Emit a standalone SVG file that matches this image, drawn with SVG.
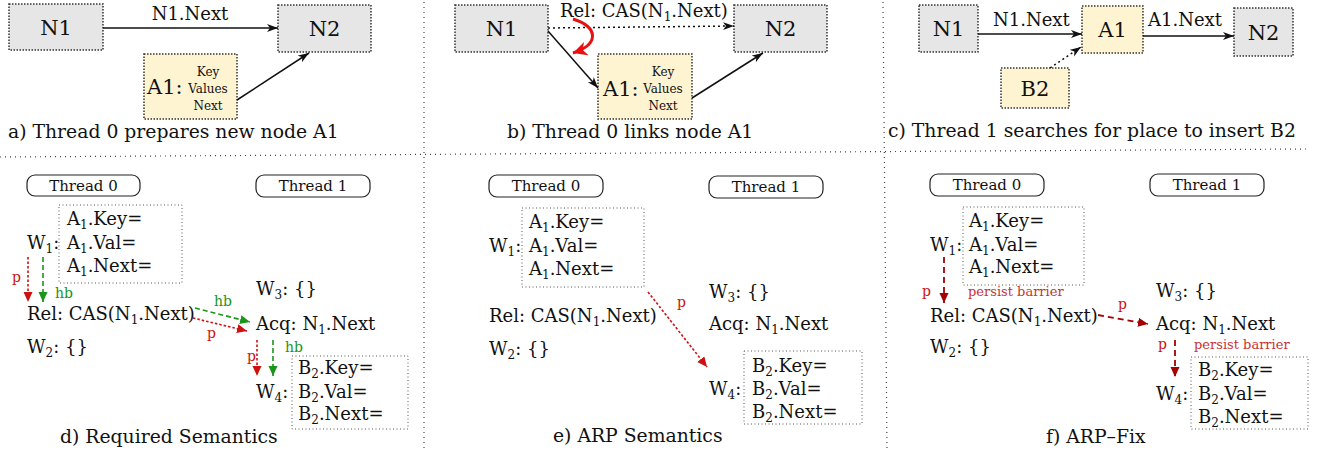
<svg xmlns="http://www.w3.org/2000/svg" width="1330" height="452" viewBox="0 0 1330 452">
<style>
text{font-family:"DejaVu Serif","Liberation Serif",serif;fill:#111}
.m{font-size:18px}
.cap{font-size:18.8px}
.big{font-size:21px}
.sm{font-size:12px}
.th{font-size:15px}
.lbl{font-size:14px}
.pbs{font-size:13px}
.gray{fill:#e6e6e6;stroke:#333;stroke-width:1.5;stroke-dasharray:1.5 1.5}
.yel{fill:#fff4d2;stroke:#333;stroke-width:1.5;stroke-dasharray:1.5 1.5}
.dbox{fill:none;stroke:#555;stroke-width:1;stroke-dasharray:1 2.5}
.thr{fill:#fff;stroke:#222;stroke-width:1.2}
.sep{stroke:#444;stroke-width:1.2;stroke-dasharray:1 4;fill:none}
.blk{stroke:#111;stroke-width:1.5;fill:none;marker-end:url(#ab)}
.blkd{stroke:#111;stroke-width:1.5;fill:none;stroke-dasharray:2 3;marker-end:url(#ab)}
.rd{stroke:#d01010;stroke-width:1.6;fill:none;stroke-dasharray:2.5 2;marker-end:url(#ar)}
.gd{stroke:#1a961a;stroke-width:1.6;fill:none;stroke-dasharray:5 3;marker-end:url(#ag)}
.dr{stroke:#a30000;stroke-width:1.8;fill:none;stroke-dasharray:6 4;marker-end:url(#adr)}
.rt{fill:#cc1111}
.gt{fill:#1a961a}
.pb{fill:#c83232}
</style>
<defs>
<marker id="ab" markerUnits="userSpaceOnUse" markerWidth="12" markerHeight="10" refX="11" refY="4" orient="auto"><path d="M0,0 L11,4 L0,8 L3,4 z" fill="#111"/></marker>
<marker id="ar" markerUnits="userSpaceOnUse" markerWidth="12" markerHeight="10" refX="10" refY="4.5" orient="auto"><path d="M0,0 L10,4.5 L0,9 z" fill="#cc1111"/></marker>
<marker id="ag" markerUnits="userSpaceOnUse" markerWidth="12" markerHeight="10" refX="10" refY="4.5" orient="auto"><path d="M0,0 L10,4.5 L0,9 z" fill="#1a961a"/></marker>
<marker id="adr" markerUnits="userSpaceOnUse" markerWidth="12" markerHeight="10" refX="10" refY="4.5" orient="auto"><path d="M0,0 L10,4.5 L0,9 z" fill="#a30000"/></marker>
<marker id="abig" markerUnits="userSpaceOnUse" markerWidth="18" markerHeight="16" refX="14" refY="7" orient="auto"><path d="M0,0 L14,7 L0,14 L4,7 z" fill="#e81010"/></marker>
</defs>

<g id="separators">
<line class="sep" x1="0" y1="157" x2="1306" y2="149"/>
<line class="sep" x1="424" y1="2" x2="424" y2="450"/>
<line class="sep" x1="883" y1="2" x2="887" y2="450"/>
</g>

<!-- Panel a -->
<g id="a-N1"><rect class="gray" x="9" y="4" width="94" height="46"/><text class="big" x="56" y="35" text-anchor="middle">N1</text></g>
<g id="a-N2"><rect class="gray" x="278" y="5" width="93" height="47"/><text class="big" x="324.5" y="36" text-anchor="middle">N2</text></g>
<g id="a-A1"><rect class="yel" x="144" y="54" width="93" height="65"/><text class="big" x="147" y="94">A1:</text>
<text class="sm" x="208" y="76" text-anchor="middle">Key</text><text class="sm" x="208" y="93" text-anchor="middle">Values</text><text class="sm" x="208" y="110" text-anchor="middle">Next</text></g>
<text class="m" x="190" y="20" text-anchor="middle">N1.Next</text>
<text class="cap" x="8" y="138">a) Thread 0 prepares new node A1</text>

<!-- Panel b -->
<g id="b-N1"><rect class="gray" x="455" y="5" width="93" height="47"/><text class="big" x="501.5" y="36" text-anchor="middle">N1</text></g>
<g id="b-N2"><rect class="gray" x="734" y="5" width="93" height="47"/><text class="big" x="780.5" y="36" text-anchor="middle">N2</text></g>
<g id="b-A1"><rect class="yel" x="598" y="54" width="94" height="65"/><text class="big" x="603" y="96">A1:</text>
<text class="sm" x="663" y="76" text-anchor="middle">Key</text><text class="sm" x="663" y="93" text-anchor="middle">Values</text><text class="sm" x="663" y="110" text-anchor="middle">Next</text></g>
<text class="m" x="560" y="17">Rel: CAS(N<tspan font-size="12" dy="4">1</tspan><tspan dy="-4">.Next)</tspan></text>
<text class="cap" x="507" y="138">b) Thread 0 links node A1</text>

<!-- Panel c -->
<g id="c-N1"><rect class="gray" x="919" y="5" width="59" height="47"/><text class="big" x="948.5" y="36" text-anchor="middle">N1</text></g>
<g id="c-A1"><rect class="yel" x="1082" y="6" width="61" height="47"/><text class="big" x="1112.5" y="37" text-anchor="middle">A1</text></g>
<g id="c-N2"><rect class="gray" x="1234" y="8" width="59" height="48"/><text class="big" x="1263.5" y="40" text-anchor="middle">N2</text></g>
<g id="c-B2"><rect class="yel" x="1001" y="68" width="68" height="40"/><text class="big" x="1035" y="96" text-anchor="middle">B2</text></g>
<text class="m" x="993" y="26">N1.Next</text>
<text class="m" x="1148" y="26">A1.Next</text>
<text class="cap" x="888" y="137">c) Thread 1 searches for place to insert B2</text>

<!-- Panel d -->
<g id="d-t0"><rect class="thr" x="27" y="175" width="113" height="21" rx="8"/><text class="th" x="83.5" y="191" text-anchor="middle">Thread 0</text></g>
<g id="d-t1"><rect class="thr" x="256" y="175" width="114" height="22" rx="8"/><text class="th" x="313" y="191" text-anchor="middle">Thread 1</text></g>
<g id="d-W1"><rect class="dbox" x="59" y="205" width="123" height="78"/>
<text class="m" x="67" y="225">A<tspan font-size="12" dy="4">1</tspan><tspan dy="-4">.Key=</tspan></text>
<text class="m" x="67" y="249">A<tspan font-size="12" dy="4">1</tspan><tspan dy="-4">.Val=</tspan></text>
<text class="m" x="67" y="272">A<tspan font-size="12" dy="4">1</tspan><tspan dy="-4">.Next=</tspan></text>
<text class="m" x="27" y="249">W<tspan font-size="12" dy="4">1</tspan><tspan dy="-4">:</tspan></text></g>
<g id="d-Rel"><text class="m" x="27" y="320">Rel: CAS(N<tspan font-size="12" dy="4">1</tspan><tspan dy="-4">.Next)</tspan></text></g>
<g id="d-W2"><text class="m" x="27" y="353">W<tspan font-size="12" dy="4">2</tspan><tspan dy="-4">: {}</tspan></text></g>
<g id="d-W3"><text class="m" x="256" y="295">W<tspan font-size="12" dy="4">3</tspan><tspan dy="-4">: {}</tspan></text></g>
<g id="d-Acq"><text class="m" x="256" y="330">Acq: N<tspan font-size="12" dy="4">1</tspan><tspan dy="-4">.Next</tspan></text></g>
<g id="d-W4"><rect class="dbox" x="292" y="356" width="116" height="73"/>
<text class="m" x="298" y="374">B<tspan font-size="12" dy="4">2</tspan><tspan dy="-4">.Key=</tspan></text>
<text class="m" x="298" y="398">B<tspan font-size="12" dy="4">2</tspan><tspan dy="-4">.Val=</tspan></text>
<text class="m" x="298" y="420">B<tspan font-size="12" dy="4">2</tspan><tspan dy="-4">.Next=</tspan></text>
<text class="m" x="256" y="398">W<tspan font-size="12" dy="4">4</tspan><tspan dy="-4">:</tspan></text></g>
<text class="cap" x="60" y="443">d) Required Semantics</text>

<!-- Panel e -->
<g id="e-t0"><rect class="thr" x="489" y="175" width="114" height="22" rx="8"/><text class="th" x="546" y="191" text-anchor="middle">Thread 0</text></g>
<g id="e-t1"><rect class="thr" x="709" y="176" width="114" height="22" rx="8"/><text class="th" x="766" y="192" text-anchor="middle">Thread 1</text></g>
<g id="e-W1"><rect class="dbox" x="522" y="208" width="122" height="79"/>
<text class="m" x="529" y="228">A<tspan font-size="12" dy="4">1</tspan><tspan dy="-4">.Key=</tspan></text>
<text class="m" x="529" y="252">A<tspan font-size="12" dy="4">1</tspan><tspan dy="-4">.Val=</tspan></text>
<text class="m" x="529" y="275">A<tspan font-size="12" dy="4">1</tspan><tspan dy="-4">.Next=</tspan></text>
<text class="m" x="489" y="252">W<tspan font-size="12" dy="4">1</tspan><tspan dy="-4">:</tspan></text></g>
<g id="e-Rel"><text class="m" x="489" y="322">Rel: CAS(N<tspan font-size="12" dy="4">1</tspan><tspan dy="-4">.Next)</tspan></text></g>
<g id="e-W2"><text class="m" x="489" y="355">W<tspan font-size="12" dy="4">2</tspan><tspan dy="-4">: {}</tspan></text></g>
<g id="e-W3"><text class="m" x="709" y="298">W<tspan font-size="12" dy="4">3</tspan><tspan dy="-4">: {}</tspan></text></g>
<g id="e-Acq"><text class="m" x="709" y="330">Acq: N<tspan font-size="12" dy="4">1</tspan><tspan dy="-4">.Next</tspan></text></g>
<g id="e-W4"><rect class="dbox" x="744" y="351" width="118" height="73"/>
<text class="m" x="752" y="372">B<tspan font-size="12" dy="4">2</tspan><tspan dy="-4">.Key=</tspan></text>
<text class="m" x="752" y="395">B<tspan font-size="12" dy="4">2</tspan><tspan dy="-4">.Val=</tspan></text>
<text class="m" x="752" y="418">B<tspan font-size="12" dy="4">2</tspan><tspan dy="-4">.Next=</tspan></text>
<text class="m" x="709" y="395">W<tspan font-size="12" dy="4">4</tspan><tspan dy="-4">:</tspan></text></g>
<text class="cap" x="553" y="442">e) ARP Semantics</text>

<!-- Panel f -->
<g id="f-t0"><rect class="thr" x="930" y="174" width="114" height="22" rx="8"/><text class="th" x="987" y="190" text-anchor="middle">Thread 0</text></g>
<g id="f-t1"><rect class="thr" x="1150" y="174" width="114" height="22" rx="8"/><text class="th" x="1207" y="190" text-anchor="middle">Thread 1</text></g>
<g id="f-W1"><rect class="dbox" x="963" y="207" width="121" height="78"/>
<text class="m" x="969" y="227">A<tspan font-size="12" dy="4">1</tspan><tspan dy="-4">.Key=</tspan></text>
<text class="m" x="969" y="251">A<tspan font-size="12" dy="4">1</tspan><tspan dy="-4">.Val=</tspan></text>
<text class="m" x="969" y="273">A<tspan font-size="12" dy="4">1</tspan><tspan dy="-4">.Next=</tspan></text>
<text class="m" x="930" y="251">W<tspan font-size="12" dy="4">1</tspan><tspan dy="-4">:</tspan></text></g>
<g id="f-Rel"><text class="m" x="930" y="322">Rel: CAS(N<tspan font-size="12" dy="4">1</tspan><tspan dy="-4">.Next)</tspan></text></g>
<g id="f-W2"><text class="m" x="930" y="353">W<tspan font-size="12" dy="4">2</tspan><tspan dy="-4">: {}</tspan></text></g>
<g id="f-W3"><text class="m" x="1156" y="297">W<tspan font-size="12" dy="4">3</tspan><tspan dy="-4">: {}</tspan></text></g>
<g id="f-Acq"><text class="m" x="1156" y="330">Acq: N<tspan font-size="12" dy="4">1</tspan><tspan dy="-4">.Next</tspan></text></g>
<g id="f-W4"><rect class="dbox" x="1191" y="357" width="117" height="72"/>
<text class="m" x="1198" y="376">B<tspan font-size="12" dy="4">2</tspan><tspan dy="-4">.Key=</tspan></text>
<text class="m" x="1198" y="400">B<tspan font-size="12" dy="4">2</tspan><tspan dy="-4">.Val=</tspan></text>
<text class="m" x="1198" y="423">B<tspan font-size="12" dy="4">2</tspan><tspan dy="-4">.Next=</tspan></text>
<text class="m" x="1156" y="400">W<tspan font-size="12" dy="4">4</tspan><tspan dy="-4">:</tspan></text></g>
<text class="cap" x="1046" y="443">f) ARP–Fix</text>

<g id="connectors">
<line class="blk" x1="103" y1="28" x2="278" y2="28"/>
<line class="blk" x1="237" y1="100" x2="309" y2="53"/>
<line class="blkd" x1="548" y1="28" x2="734" y2="26"/>
<line class="blk" x1="548" y1="31" x2="598" y2="88"/>
<line class="blk" x1="692" y1="98" x2="763" y2="53"/>
<path d="M573,19 C598,27 600,44 573,53" stroke="#e81010" stroke-width="3" fill="none" marker-end="url(#abig)"/>
<line class="blk" x1="978" y1="34" x2="1082" y2="34"/>
<line class="blk" x1="1143" y1="36" x2="1234" y2="36"/>
<line class="blkd" x1="1050" y1="68" x2="1081" y2="47"/>
<line class="rd" x1="28" y1="257" x2="28" y2="302"/>
<line class="gd" x1="43" y1="257" x2="43" y2="302"/>
<line class="gd" x1="195" y1="308" x2="250" y2="322"/>
<line class="rd" x1="193" y1="318" x2="247" y2="331"/>
<line class="rd" x1="257" y1="340" x2="257" y2="376"/>
<line class="gd" x1="273" y1="340" x2="273" y2="376"/>
<line class="rd" x1="648" y1="292" x2="707" y2="367"/>
<line class="dr" x1="944" y1="257" x2="944" y2="303"/>
<line class="dr" x1="1098" y1="315" x2="1148" y2="324"/>
<line class="dr" x1="1175" y1="340" x2="1175" y2="377"/>
</g>
<g id="connector-labels">
<text class="lbl rt" x="12" y="282">p</text>
<text class="lbl gt" x="55" y="298">hb</text>
<text class="lbl gt" x="214" y="306">hb</text>
<text class="lbl rt" x="207" y="338">p</text>
<text class="lbl rt" x="247" y="361">p</text>
<text class="lbl gt" x="285" y="352">hb</text>
<text class="lbl rt" x="677" y="307">p</text>
<text class="lbl rt" x="922" y="296">p</text>
<text class="pbs pb" x="968" y="296">persist barrier</text>
<text class="lbl rt" x="1158" y="349">p</text>
<text class="lbl rt" x="1118" y="309">p</text>
<text class="pbs pb" x="1194" y="349">persist barrier</text>
</g>
</svg>
